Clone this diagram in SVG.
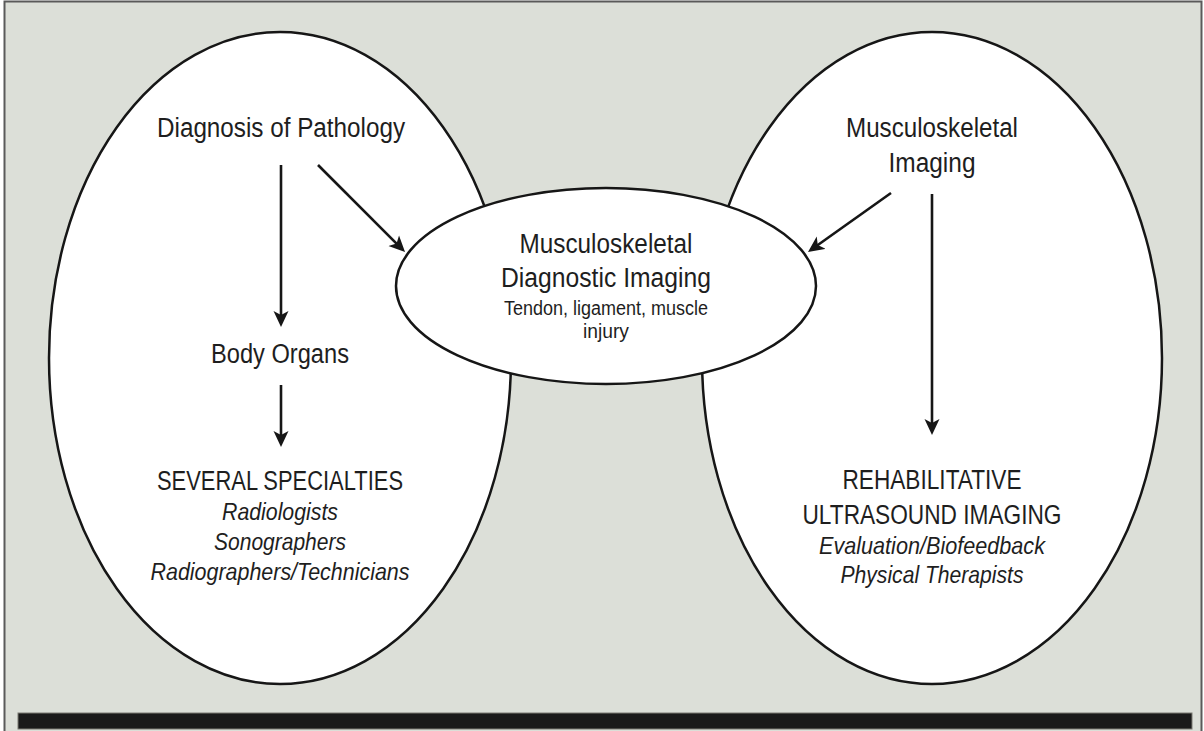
<svg xmlns="http://www.w3.org/2000/svg" width="1204" height="731" viewBox="0 0 1204 731">
<defs>
<style>
.bg{fill:#dcdfd8;stroke:#5a5a5a;stroke-width:2}
.node{fill:#ffffff;stroke:#161616;stroke-width:2.5}
.t{font-family:"Liberation Sans",Arial,sans-serif;fill:#1e1e1e;text-anchor:middle;font-size:27px}
.s{font-size:20px}
.i{font-style:italic;font-size:24px}
.conn line{stroke:#161616;stroke-width:2.6;fill:none}
</style>
<marker id="ah" markerUnits="userSpaceOnUse" markerWidth="18" markerHeight="16" refX="10" refY="7.5" orient="auto" viewBox="0 0 18 15">
<path d="M0,0 L16,7.5 L0,15 L4,7.5 Z" fill="#161616"/>
</marker>
</defs>
<rect x="0" y="0" width="1204" height="731" fill="#ffffff"/>
<rect class="bg" x="4.5" y="1.5" width="1197" height="740"/>
<rect x="18" y="713" width="1174" height="16" fill="#1a1a1a" stroke="#7a7a72" stroke-width="1"/>

<g id="left-oval">
<ellipse class="node" cx="280" cy="358" rx="231" ry="326"/>
</g>
<g id="right-oval">
<ellipse class="node" cx="932" cy="358" rx="230" ry="326"/>
</g>

<g id="diagnosis-of-pathology">
<text class="t" x="281" y="137" textLength="248" lengthAdjust="spacingAndGlyphs">Diagnosis of Pathology</text>
</g>
<g id="body-organs">
<text class="t" x="280" y="363" textLength="138" lengthAdjust="spacingAndGlyphs">Body Organs</text>
</g>
<g id="several-specialties">
<text class="t" x="280" y="490" textLength="246" lengthAdjust="spacingAndGlyphs">SEVERAL SPECIALTIES</text>
<text class="t i" x="280" y="520" textLength="116" lengthAdjust="spacingAndGlyphs">Radiologists</text>
<text class="t i" x="280" y="550" textLength="132" lengthAdjust="spacingAndGlyphs">Sonographers</text>
<text class="t i" x="280" y="580" textLength="259" lengthAdjust="spacingAndGlyphs">Radiographers/Technicians</text>
</g>

<g id="musculoskeletal-imaging">
<text class="t" x="932" y="137" textLength="172" lengthAdjust="spacingAndGlyphs">Musculoskeletal</text>
<text class="t" x="932" y="172" textLength="87" lengthAdjust="spacingAndGlyphs">Imaging</text>
</g>
<g id="rehabilitative-ultrasound-imaging">
<text class="t" x="932" y="489" textLength="179" lengthAdjust="spacingAndGlyphs">REHABILITATIVE</text>
<text class="t" x="932" y="524" textLength="259" lengthAdjust="spacingAndGlyphs">ULTRASOUND IMAGING</text>
<text class="t i" x="932" y="554" textLength="226" lengthAdjust="spacingAndGlyphs">Evaluation/Biofeedback</text>
<text class="t i" x="932" y="583" textLength="183" lengthAdjust="spacingAndGlyphs">Physical Therapists</text>
</g>

<g id="musculoskeletal-diagnostic-imaging">
<ellipse class="node" cx="606" cy="286" rx="210" ry="98"/>
<text class="t" x="606" y="253" textLength="173" lengthAdjust="spacingAndGlyphs">Musculoskeletal</text>
<text class="t" x="606" y="287" textLength="210" lengthAdjust="spacingAndGlyphs">Diagnostic Imaging</text>
<text class="t s" x="606" y="315" textLength="204" lengthAdjust="spacingAndGlyphs">Tendon, ligament, muscle</text>
<text class="t s" x="606" y="338" textLength="46" lengthAdjust="spacingAndGlyphs">injury</text>
</g>

<g id="connectors" class="conn">
<line x1="281" y1="165" x2="281" y2="321" marker-end="url(#ah)"/>
<line x1="281" y1="385" x2="281" y2="441" marker-end="url(#ah)"/>
<line x1="318" y1="165" x2="400.8" y2="247.8" marker-end="url(#ah)"/>
<line x1="891" y1="193" x2="812.9" y2="248.5" marker-end="url(#ah)"/>
<line x1="932" y1="194" x2="932" y2="429" marker-end="url(#ah)"/>
</g>
</svg>
